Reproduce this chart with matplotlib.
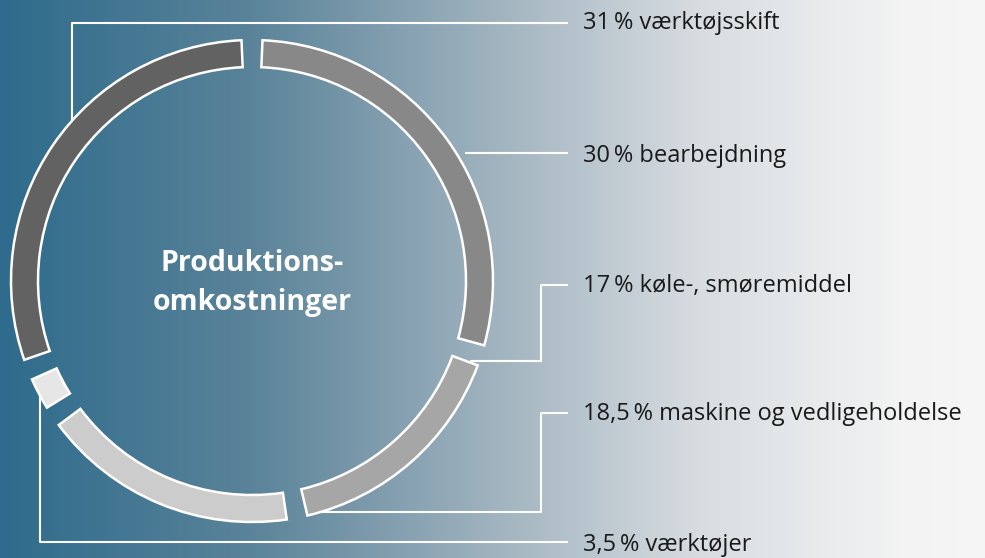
import numpy as np
import matplotlib
matplotlib.use("Agg")
import matplotlib.pyplot as plt
from matplotlib.patches import Wedge

plt.rcParams['font.family'] = ['Open Sans', 'DejaVu Sans']

# data, clockwise from the top of the ring
labels = ["bearbejdning", "køle-, smøremiddel", "maskine og vedligeholdelse",
          "værktøjer", "værktøjsskift"]
values = [30, 17, 18.5, 3.5, 31]
value_text = ["30", "17", "18,5", "3,5", "31"]
colors = ["#888888", "#a6a6a6", "#cccccc", "#e6e6e6", "#626262"]
center_title = "Produktions-\nomkostninger"

W, H = 985, 558
fig = plt.figure(figsize=(W / 100, H / 100), dpi=100)
ax = fig.add_axes([0, 0, 1, 1])
ax.set_xlim(0, W)
ax.set_ylim(H, 0)
ax.axis("off")

# background gradient (left teal-blue to right near white)
stops_x = [0, 250, 500, 700, 900, 985]
stops_c = np.array([[46, 107, 140], [90, 131, 153], [162, 180, 192],
                    [216, 221, 225], [243, 243, 243], [246, 246, 246]]) / 255
xs = np.arange(W)
row = np.stack([np.interp(xs, stops_x, stops_c[:, k]) for k in range(3)], axis=1)
bg = np.repeat(row[None, :, :], H, axis=0)
ax.imshow(bg, extent=(0, W, H, 0), aspect="auto", zorder=0)

# ring
cx, cy = 252, 281
r_out, ring_w = 241, 27
gap = 5.0
# y axis is inverted, so angles run clockwise on screen; top = -90
start = -90.0
for val, col in zip(values, colors):
    span = val / sum(values) * 360
    w = Wedge((cx, cy), r_out, start + gap / 2, start + span - gap / 2,
              width=ring_w, facecolor=col, edgecolor="white", lw=1.8, zorder=3)
    ax.add_patch(w)
    start += span

# leader lines (drawn under the ring)
lx = 568
leaders = [
    [(465, 153), (lx, 153)],
    [(470, 361), (541, 361), (541, 285), (lx, 285)],
    [(320, 512), (541, 512), (541, 413), (lx, 413)],
    [(40, 392), (40, 542), (lx, 542)],
    [(72, 135), (72, 23), (lx, 23)],
]
label_y = [156, 286, 414, 545, 23]
for pts, ly, vt, lab in zip(leaders, label_y, value_text, labels):
    px, py = zip(*pts)
    ax.plot(px, py, color="white", lw=1.5, zorder=2, solid_capstyle="butt")
    ax.text(lx + 15, ly, f"{vt}\u2009% {lab}", fontsize=17, color="#1a1a1a",
            va="center", ha="left", zorder=4)

ax.text(cx, cy + 2, center_title, fontsize=20.5, fontweight="bold", color="white",
        ha="center", va="center", linespacing=1.45, zorder=4)

fig.savefig("out.png", dpi=100)
